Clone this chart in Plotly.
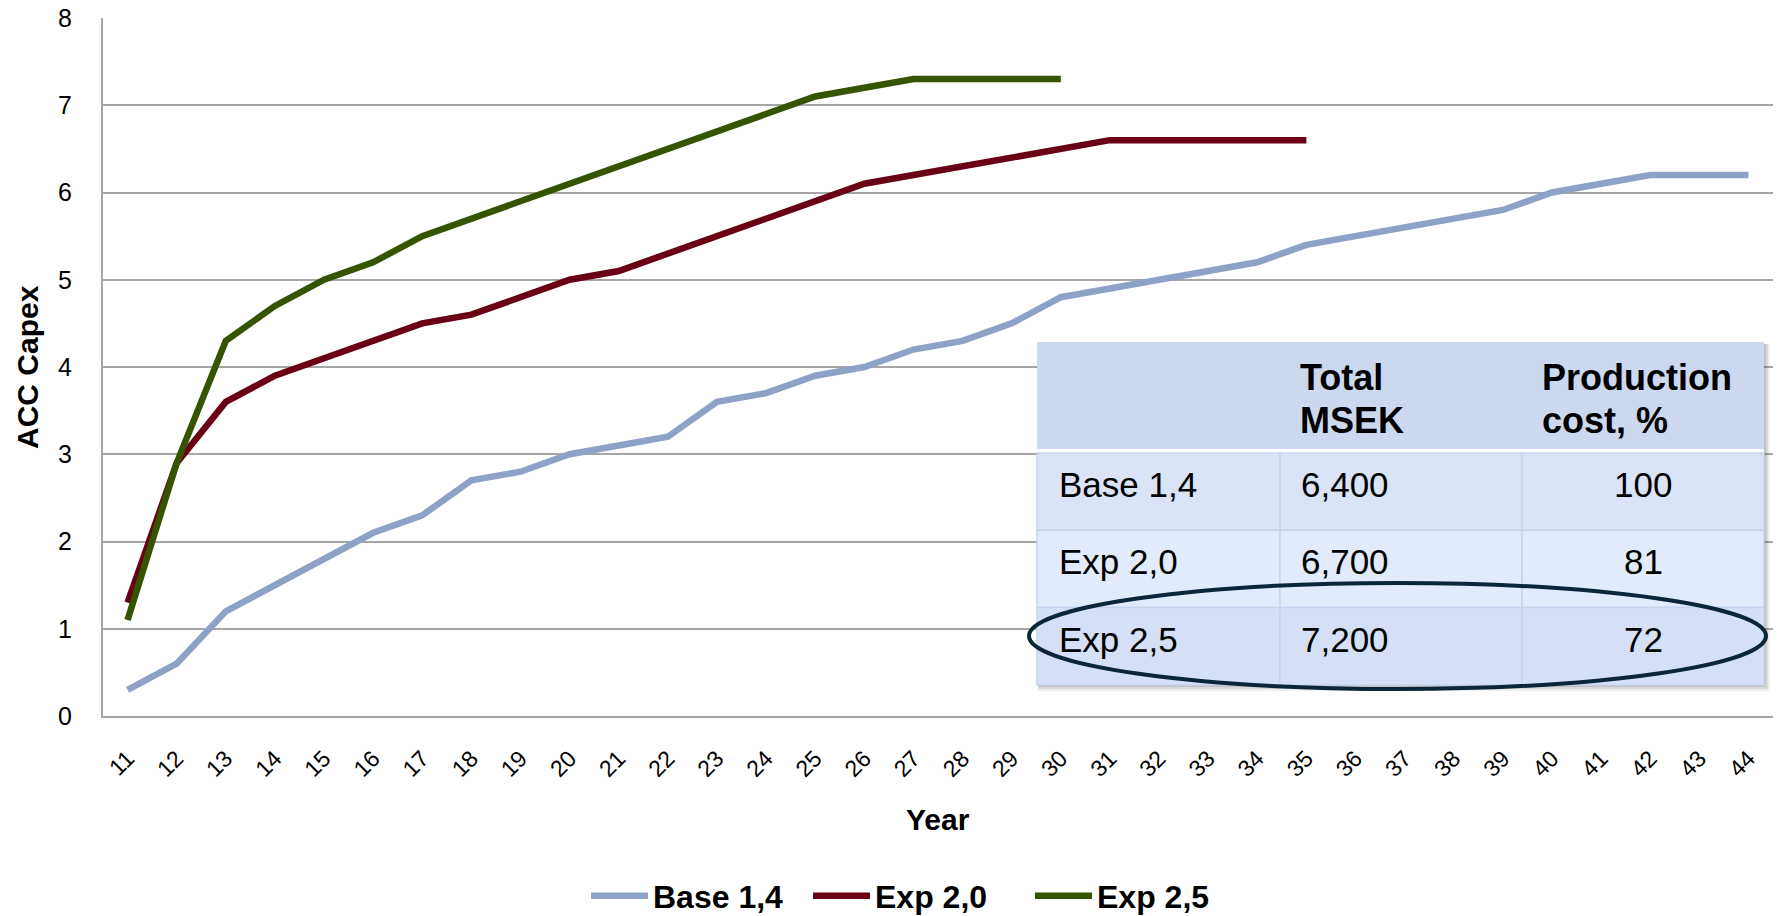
import plotly.graph_objects as go

# ---------------- data ----------------
years = list(range(11, 45))
base_14 = [0.3, 0.6, 1.2, 1.5, 1.8, 2.1, 2.3, 2.7, 2.8, 3.0, 3.1, 3.2, 3.6, 3.7, 3.9, 4.0, 4.2,
           4.3, 4.5, 4.8, 4.9, 5.0, 5.1, 5.2, 5.4, 5.5, 5.6, 5.7, 5.8, 6.0, 6.1, 6.2, 6.2, 6.2]
exp_20 = [1.3, 2.9, 3.6, 3.9, 4.1, 4.3, 4.5, 4.6, 4.8, 5.0, 5.1, 5.3, 5.5, 5.7, 5.9, 6.1, 6.2,
          6.3, 6.4, 6.5, 6.6, 6.6, 6.6, 6.6, 6.6]
exp_25 = [1.1, 2.9, 4.3, 4.7, 5.0, 5.2, 5.5, 5.7, 5.9, 6.1, 6.3, 6.5, 6.7, 6.9, 7.1, 7.2, 7.3,
          7.3, 7.3, 7.3]

series_names = ["Base 1,4", "Exp 2,0", "Exp 2,5"]
series_values = [base_14, exp_20, exp_25]
series_colors = ["#8EA2C7", "#6A0013", "#355400"]

y_ticks = [0, 1, 2, 3, 4, 5, 6, 7, 8]

table_header_line1 = ["", "Total", "Production"]
table_header_line2 = ["", "MSEK", "cost, %"]
table_scenarios = ["Base 1,4", "Exp 2,0", "Exp 2,5"]
table_total_msek = ["6,400", "6,700", "7,200"]
table_prod_cost = ["100", "81", "72"]
table_row_fills = ["#DAE4F6", "#E2EBFB", "#D5E0F6"]

# ---------------- layout geometry (pixels) ----------------
W, H = 1779, 916
ML, MR, MT, MB = 103, 6, 18, 200
PW, PH = W - ML - MR, H - MT - MB


def px(x):
    return (x - ML) / PW


def py(y):
    return (H - MB - y) / PH


FONT = "Liberation Sans, Arial, sans-serif"

fig = go.Figure()
for name, vals, col in zip(series_names, series_values, series_colors):
    fig.add_trace(go.Scatter(
        x=years[:len(vals)], y=vals, name=name, mode="lines",
        line=dict(color=col, width=6.5),
    ))

shapes = []
annotations = []

# table geometry
tl, tr, tt = 1037, 1764, 342
hdr_b = 449
row_top = 453
row_h = 77.3
col_x = [1037, 1280, 1522, 1764]
tb = row_top + 3 * row_h

# shadow
for off, a in [(6, 0.08), (4, 0.12), (2, 0.15)]:
    shapes.append(dict(type="rect", xref="paper", yref="paper", layer="above",
                       x0=px(tl + 1), x1=px(tr + off), y0=py(tt + 2), y1=py(tb + off),
                       fillcolor=f"rgba(60,60,60,{a})", line=dict(width=0)))
# white background for gap
shapes.append(dict(type="rect", xref="paper", yref="paper", layer="above",
                   x0=px(tl), x1=px(tr), y0=py(tt), y1=py(tb),
                   fillcolor="white", line=dict(width=0)))
# header
shapes.append(dict(type="rect", xref="paper", yref="paper", layer="above",
                   x0=px(tl), x1=px(tr), y0=py(tt), y1=py(hdr_b),
                   fillcolor="#CBD8EE", line=dict(width=0)))
# rows
for i, fc in enumerate(table_row_fills):
    y0 = row_top + i * row_h
    for c in range(3):
        shapes.append(dict(type="rect", xref="paper", yref="paper", layer="above",
                           x0=px(col_x[c]), x1=px(col_x[c + 1]), y0=py(y0), y1=py(y0 + row_h),
                           fillcolor=fc, line=dict(width=1.5, color="#C6D3EC")))

HDR_FONT = dict(family=FONT, size=36, color="black", weight="bold")
BODY_FONT = dict(family=FONT, size=35, color="black")

# header text (two lines)
for c in range(3):
    for txt, yc in [(table_header_line1[c], 377), (table_header_line2[c], 420)]:
        if txt:
            annotations.append(dict(xref="paper", yref="paper", x=px(col_x[c] + 18), y=py(yc),
                                    xanchor="left", yanchor="middle", text=txt, showarrow=False,
                                    font=HDR_FONT))
# body text
for i in range(3):
    yc = py(row_top + i * row_h + row_h / 2 - 7)
    annotations.append(dict(xref="paper", yref="paper", x=px(col_x[0] + 20), y=yc, xanchor="left",
                            yanchor="middle", text=table_scenarios[i], showarrow=False, font=BODY_FONT))
    annotations.append(dict(xref="paper", yref="paper", x=px(col_x[1] + 19), y=yc, xanchor="left",
                            yanchor="middle", text=table_total_msek[i], showarrow=False, font=BODY_FONT))
    annotations.append(dict(xref="paper", yref="paper", x=px((col_x[2] + col_x[3]) / 2), y=yc,
                            xanchor="center", yanchor="middle", text=table_prod_cost[i], showarrow=False,
                            font=BODY_FONT))

# ellipse highlight
shapes.append(dict(type="circle", xref="paper", yref="paper", layer="above",
                   x0=px(1029), x1=px(1766), y0=py(583), y1=py(689),
                   line=dict(color="#0B2539", width=4), fillcolor="rgba(0,0,0,0)"))

# axis titles
annotations.append(dict(xref="paper", yref="paper", x=px(27), y=0.5, xanchor="center", yanchor="middle",
                        text="ACC Capex", textangle=-90, showarrow=False,
                        font=dict(family=FONT, size=30, color="black", weight="bold")))
annotations.append(dict(xref="paper", yref="paper", x=0.5, y=py(819), xanchor="center", yanchor="middle",
                        text="Year", showarrow=False,
                        font=dict(family=FONT, size=30, color="black", weight="bold")))

fig.update_layout(
    width=W, height=H,
    margin=dict(l=ML, r=MR, t=MT, b=MB, autoexpand=False),
    paper_bgcolor="white", plot_bgcolor="white",
    font=dict(family=FONT, color="black"),
    shapes=shapes, annotations=annotations,
    showlegend=True,
    legend=dict(orientation="h", xref="container", yref="container", x=586 / W, y=(H - 896) / H,
                xanchor="left", yanchor="middle",
                font=dict(family=FONT, size=32, color="black", weight="bold"),
                entrywidth=150, itemwidth=57, bgcolor="rgba(0,0,0,0)"),
)
fig.update_xaxes(range=[10.5, 44.5], tickmode="array", tickvals=years, ticktext=[str(y) for y in years],
                 tickangle=-45, tickfont=dict(size=23, color="black"), showgrid=False,
                 showline=True, linecolor="#A6A6A6", linewidth=2, ticks="", zeroline=False,
                 ticklabelstandoff=18)
fig.update_yaxes(range=[0, 8], tickvals=y_ticks, tickfont=dict(size=25, color="black"),
                 showgrid=True, gridcolor="#A6A6A6", gridwidth=2, showline=True, linecolor="#A6A6A6",
                 linewidth=2, ticks="", zeroline=False, ticklabelstandoff=24)

fig.write_html("out.html", config={"displayModeBar": False},
               post_script="document.body.style.margin='0';document.body.style.overflow='hidden';")
